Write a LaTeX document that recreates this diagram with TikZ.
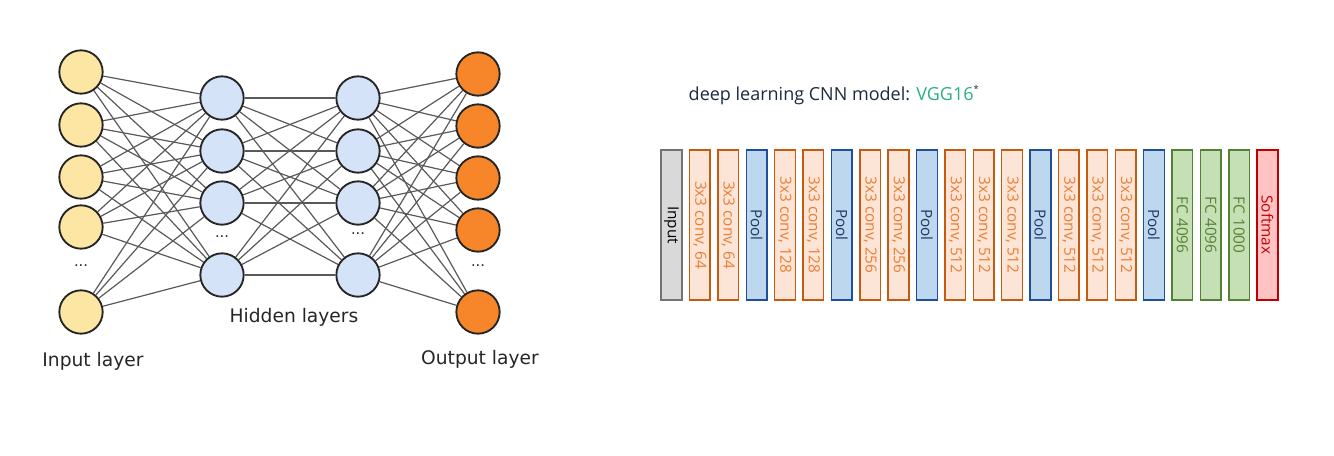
\documentclass[tikz,border=0pt]{standalone}
\usepackage{fontspec}
\setmainfont{DejaVu Sans}
\newfontfamily\vggfont{Open Sans}
\usepackage{tikz}
\usetikzlibrary{calc}
\pgfdeclarelayer{background}
\pgfsetlayers{background,main}

\definecolor{inyellow}{HTML}{FDE6A4}
\definecolor{hidblue}{HTML}{D5E3F8}
\definecolor{outorange}{HTML}{F7852A}
\definecolor{titlenavy}{HTML}{1B2A3F}
\definecolor{vgggreen}{HTML}{2BAE84}
\definecolor{convfill}{HTML}{FCE4D6}
\definecolor{convline}{HTML}{C55A11}
\definecolor{convtext}{HTML}{ED7D31}
\definecolor{poolfill}{HTML}{BDD7EE}
\definecolor{poolline}{HTML}{1F4E9A}
\definecolor{pooltext}{HTML}{203864}
\definecolor{fcfill}{HTML}{C5E0B4}
\definecolor{fcline}{HTML}{548235}
\definecolor{softfill}{HTML}{FFC3C3}
\definecolor{softline}{HTML}{C00000}

\tikzset{
    neuron/.style={circle, draw=black!85, line width=1.4pt, minimum size=32.5pt, inner sep=0pt},
    synapse/.style={black!65, line width=0.9pt},
    layerlabel/.style={font=\fontsize{14}{16}\selectfont, black!85},
    dots/.style={black!85, font=\fontsize{11}{12}\selectfont},
    block/.style={rectangle, rotate=-90, minimum width=112.5pt, minimum height=15.5pt, inner sep=0pt, line width=1.1pt, font=\vggfont\fontsize{11.5}{12}\selectfont},
    inbox/.style={block, fill=black!15, draw=black!55, text=black},
    convbox/.style={block, fill=convfill, draw=convline, text=convtext},
    poolbox/.style={block, fill=poolfill, draw=poolline, text=pooltext},
    fcbox/.style={block, fill=fcfill, draw=fcline, text=fcline},
    softbox/.style={block, fill=softfill, draw=softline, text=softline}
}

\begin{document}
\begin{tikzpicture}[x=0.75pt, y=-0.75pt]
    \useasboundingbox (0,0) rectangle (1334,456);

    % neural network
    \foreach \y [count=\i] in {72,125,177,227,312}
        \node[neuron, fill=inyellow] (in\i) at (81,\y) {};
    \foreach \y [count=\i] in {98,151,203,275}
        \node[neuron, fill=hidblue] (ha\i) at (222,\y) {};
    \foreach \y [count=\i] in {98,151,203,275}
        \node[neuron, fill=hidblue] (hb\i) at (358,\y) {};
    \foreach \y [count=\i] in {74,126,178,230,312}
        \node[neuron, fill=outorange] (out\i) at (478,\y) {};

    \begin{pgfonlayer}{background}
    \foreach \a in {1,...,5}
        \foreach \b in {1,...,4}
            \draw[synapse] (in\a) -- (ha\b);
    \foreach \a in {1,...,4}
        \foreach \b in {1,...,4}
            \draw[synapse] (ha\a) -- (hb\b);
    \foreach \a in {1,...,4}
        \foreach \b in {1,...,5}
            \draw[synapse] (hb\a) -- (out\b);
    \end{pgfonlayer}

    \node[dots] (indots) at (81,266) {...};
    \node[dots] (hadots) at (222,237) {...};
    \node[dots] (hbdots) at (358,234) {...};
    \node[dots] (outdots) at (478,266) {...};

    \node[layerlabel] (inlabel) at (93,361) {Input layer};
    \node[layerlabel] (hidlabel) at (294,317) {Hidden layers};
    \node[layerlabel] (outlabel) at (480,359) {Output layer};

    % VGG16
    \node[anchor=west, text=titlenavy, font=\vggfont\fontsize{13.5}{15}\selectfont] (title) at (684,95)
        {deep learning CNN model: \textcolor{vgggreen}{VGG16}\raisebox{0.9ex}{\fontsize{7}{8}\selectfont*}};

    \foreach \lbl/\kind [count=\i from 0] in {Input/inbox, {3x3 conv, 64}/convbox, {3x3 conv, 64}/convbox, Pool/poolbox,
        {3x3 conv, 128}/convbox, {3x3 conv, 128}/convbox, Pool/poolbox,
        {3x3 conv, 256}/convbox, {3x3 conv, 256}/convbox, Pool/poolbox,
        {3x3 conv, 512}/convbox, {3x3 conv, 512}/convbox, {3x3 conv, 512}/convbox, Pool/poolbox,
        {3x3 conv, 512}/convbox, {3x3 conv, 512}/convbox, {3x3 conv, 512}/convbox, Pool/poolbox,
        {FC 4096}/fcbox, {FC 4096}/fcbox, {FC 1000}/fcbox, Softmax/softbox}
        \node[\kind] (blk\i) at ({671.5+28.38*\i},225) {\lbl};
\end{tikzpicture}
\end{document}
